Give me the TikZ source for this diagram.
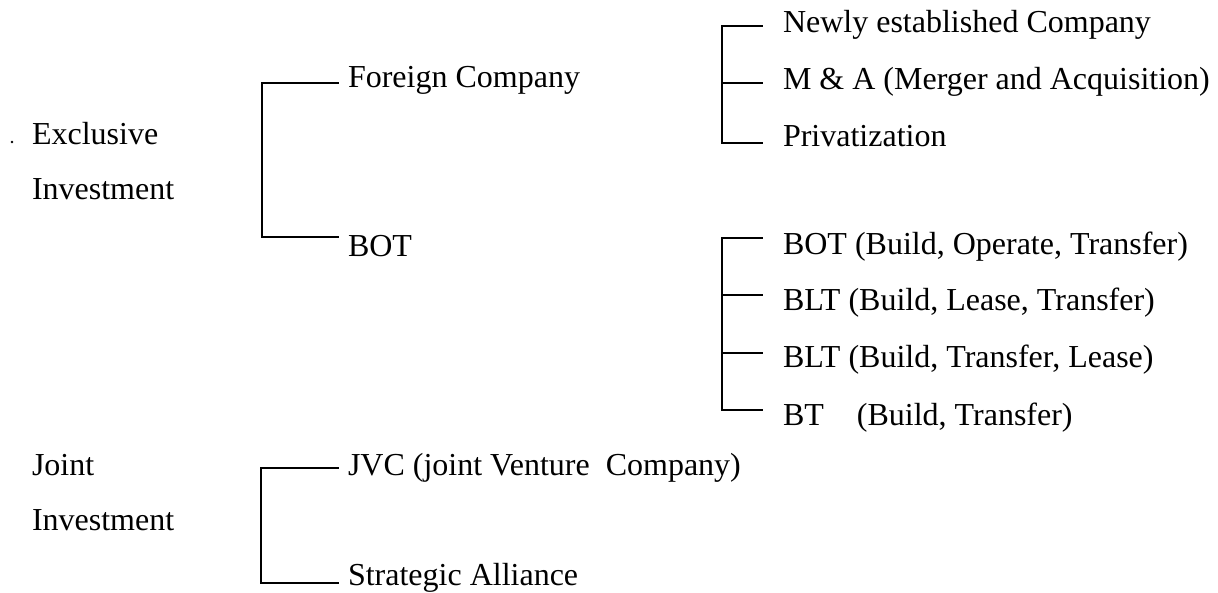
\documentclass[tikz,border=0pt]{standalone}
\usepackage{fontspec}
\setmainfont{Liberation Serif}
\begin{document}
\begin{tikzpicture}[x=1pt,y=-1pt,
  lbl/.style={anchor=base west,inner sep=0pt,outer sep=0pt,font=\fontsize{32}{38}\selectfont},
  conn/.style={line width=1.6pt,line cap=rect}]
\useasboundingbox (0,0) rectangle (1218,593);
% left labels
\fill (12,142) circle (1.3pt);
\node[lbl] (ex1) at (32,145) {Exclusive};
\node[lbl] (ex2) at (32,200) {Investment};
\node[lbl] (jo1) at (32,475) {Joint};
\node[lbl] (jo2) at (32,530) {Investment};
% middle labels
\node[lbl] (fc) at (348,88) {Foreign Company};
\node[lbl] (bot) at (348,257) {BOT};
\node[lbl] (jvc) at (348,475) {JVC (joint Venture\ \ Company)};
\node[lbl] (sa) at (348,585) {Strategic Alliance};
% right labels
\node[lbl] (nc) at (783,33) {Newly established Company};
\node[lbl] (ma) at (783,90) {M \& A (Merger and Acquisition)};
\node[lbl] (pr) at (783,147) {Privatization};
\node[lbl] (b1) at (783,255) {BOT (Build, Operate, Transfer)};
\node[lbl] (b2) at (783,311) {BLT (Build, Lease, Transfer)};
\node[lbl] (b3) at (783,368) {BLT (Build, Transfer, Lease)};
\node[lbl] (b4) at (783,425) {BT\hspace{25pt} (Build, Transfer)};
% bracket coordinates
\coordinate (a1) at (262,83);
\coordinate (a2) at (262,237);
\coordinate (c1) at (722,26);
\coordinate (c2) at (722,83);
\coordinate (c3) at (722,143);
\coordinate (d1) at (722,238);
\coordinate (d2) at (722,295);
\coordinate (d3) at (722,353);
\coordinate (d4) at (722,410);
\coordinate (e1) at (261,468);
\coordinate (e2) at (261,583);
% brackets
\draw[conn] ([xshift=-10pt]fc.west |- a1) -- (a1) -- (a2) -- ([xshift=-10pt]bot.west |- a2);
\draw[conn] ([xshift=-21pt]nc.west |- c1) -- (c1) -- (c3) -- ([xshift=-21pt]pr.west |- c3);
\draw[conn] (c2) -- ([xshift=-21pt]ma.west |- c2);
\draw[conn] ([xshift=-21pt]b1.west |- d1) -- (d1) -- (d4) -- ([xshift=-21pt]b4.west |- d4);
\draw[conn] (d2) -- ([xshift=-21pt]b2.west |- d2);
\draw[conn] (d3) -- ([xshift=-21pt]b3.west |- d3);
\draw[conn] ([xshift=-10pt]jvc.west |- e1) -- (e1) -- (e2) -- ([xshift=-10pt]sa.west |- e2);
\end{tikzpicture}
\end{document}
